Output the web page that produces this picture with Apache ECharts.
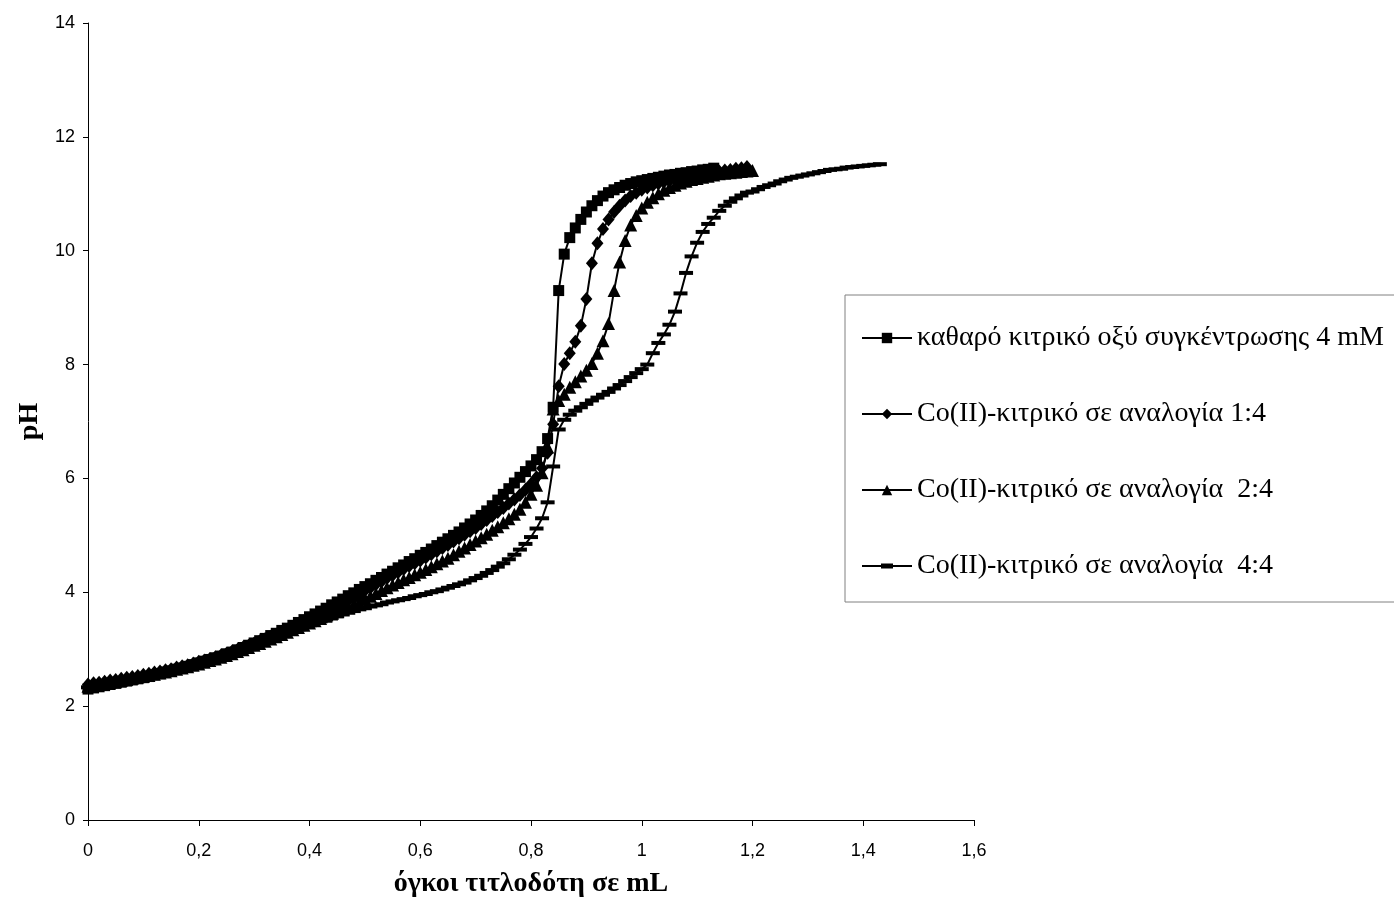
<!DOCTYPE html>
<html>
<head>
<meta charset="utf-8">
<script src="https://cdn.jsdelivr.net/npm/echarts@6/dist/echarts.min.js"></script>
<style>
  html, body { margin: 0; padding: 0; background: #fff; }
  #main { width: 1394px; height: 897px; }
</style>
</head>
<body>
<div id="main"></div>
<script>
// Titrant volume step between readings (mL)
const volStep = 0.01;

// Series names (legend order)
const seriesNames = [
    'καθαρό κιτρικό οξύ συγκέντρωσης 4 mM',
    'Co(II)-κιτρικό σε αναλογία 1:4',
    'Co(II)-κιτρικό σε αναλογία  2:4',
    'Co(II)-κιτρικό σε αναλογία  4:4'
];

// pH readings, one per volume step starting at 0 mL
const phAcid = [
    2.30, 2.32, 2.34, 2.36, 2.38, 2.40, 2.42, 2.44, 2.46, 2.48,
    2.50, 2.52, 2.55, 2.57, 2.60, 2.62, 2.65, 2.67, 2.70, 2.73,
    2.76, 2.79, 2.82, 2.85, 2.88, 2.92, 2.95, 2.99, 3.03, 3.07,
    3.11, 3.15, 3.19, 3.24, 3.28, 3.33, 3.37, 3.42, 3.47, 3.52,
    3.57, 3.62, 3.67, 3.72, 3.78, 3.83, 3.88, 3.94, 3.99, 4.05,
    4.10, 4.15, 4.21, 4.26, 4.32, 4.37, 4.43, 4.48, 4.54, 4.59,
    4.65, 4.70, 4.76, 4.82, 4.88, 4.94, 5.00, 5.06, 5.13, 5.20,
    5.27, 5.35, 5.43, 5.52, 5.62, 5.72, 5.82, 5.92, 6.02, 6.12,
    6.22, 6.33, 6.47, 6.70, 7.25, 9.30, 9.94, 10.23, 10.40, 10.55,
    10.68, 10.79, 10.88, 10.96, 11.02, 11.07, 11.11, 11.15, 11.18, 11.21,
    11.23, 11.25, 11.27, 11.29, 11.31, 11.33, 11.34, 11.36, 11.37, 11.39,
    11.40, 11.42, 11.43, 11.45
];

const phCo14 = [
    2.38, 2.40, 2.41, 2.43, 2.45, 2.46, 2.48, 2.50, 2.51, 2.53,
    2.55, 2.57, 2.59, 2.61, 2.63, 2.65, 2.68, 2.70, 2.72, 2.75,
    2.78, 2.80, 2.83, 2.86, 2.89, 2.92, 2.96, 2.99, 3.03, 3.06,
    3.10, 3.14, 3.18, 3.22, 3.26, 3.30, 3.34, 3.39, 3.43, 3.48,
    3.52, 3.57, 3.61, 3.66, 3.70, 3.75, 3.80, 3.85, 3.89, 3.94,
    4.03, 4.08, 4.14, 4.19, 4.25, 4.30, 4.35, 4.41, 4.46, 4.51,
    4.56, 4.61, 4.67, 4.72, 4.78, 4.83, 4.89, 4.95, 5.01, 5.07,
    5.13, 5.20, 5.27, 5.34, 5.41, 5.48, 5.56, 5.63, 5.71, 5.80,
    5.90, 6.02, 6.18, 6.45, 6.95, 7.62, 8.01, 8.20, 8.40, 8.68,
    9.15, 9.78, 10.13, 10.38, 10.55, 10.68, 10.79, 10.88, 10.96, 11.02,
    11.07, 11.11, 11.15, 11.18, 11.21, 11.23, 11.25, 11.27, 11.29, 11.31,
    11.33, 11.35, 11.36, 11.38, 11.39, 11.41, 11.42, 11.44, 11.45, 11.47
];

const phCo24 = [
    2.35, 2.37, 2.38, 2.40, 2.42, 2.43, 2.45, 2.47, 2.49, 2.51,
    2.52, 2.54, 2.56, 2.58, 2.60, 2.62, 2.65, 2.67, 2.69, 2.72,
    2.74, 2.77, 2.80, 2.83, 2.86, 2.89, 2.92, 2.96, 2.99, 3.03,
    3.07, 3.10, 3.14, 3.18, 3.22, 3.26, 3.30, 3.34, 3.38, 3.42,
    3.46, 3.50, 3.54, 3.58, 3.62, 3.66, 3.70, 3.74, 3.78, 3.82,
    3.89, 3.93, 3.98, 4.03, 4.08, 4.13, 4.17, 4.22, 4.26, 4.31,
    4.35, 4.40, 4.45, 4.50, 4.55, 4.60, 4.66, 4.72, 4.78, 4.84,
    4.90, 4.96, 5.02, 5.09, 5.15, 5.22, 5.29, 5.37, 5.46, 5.58,
    5.72, 5.88, 6.10, 6.55, 7.22, 7.37, 7.48, 7.60, 7.70, 7.80,
    7.90, 8.02, 8.20, 8.42, 8.72, 9.30, 9.80, 10.18, 10.45, 10.62,
    10.75, 10.85, 10.93, 11.00, 11.06, 11.11, 11.15, 11.19, 11.22, 11.25,
    11.27, 11.29, 11.31, 11.33, 11.35, 11.36, 11.37, 11.38, 11.39, 11.40,
    11.41
];

const phCo44 = [
    2.33, 2.35, 2.37, 2.38, 2.40, 2.42, 2.44, 2.46, 2.47, 2.49,
    2.51, 2.53, 2.55, 2.57, 2.59, 2.61, 2.63, 2.66, 2.68, 2.70,
    2.73, 2.75, 2.78, 2.81, 2.84, 2.87, 2.90, 2.93, 2.97, 3.00,
    3.04, 3.08, 3.11, 3.15, 3.19, 3.23, 3.27, 3.31, 3.35, 3.39,
    3.42, 3.46, 3.49, 3.52, 3.55, 3.58, 3.61, 3.64, 3.67, 3.70,
    3.72, 3.75, 3.77, 3.79, 3.82, 3.84, 3.86, 3.88, 3.90, 3.93,
    3.95, 3.97, 4.00, 4.02, 4.05, 4.08, 4.11, 4.14, 4.17, 4.21,
    4.25, 4.29, 4.34, 4.39, 4.45, 4.51, 4.58, 4.66, 4.75, 4.85,
    4.97, 5.12, 5.30, 5.58, 6.21, 6.86, 7.03, 7.12, 7.19, 7.25,
    7.31, 7.37, 7.42, 7.47, 7.52, 7.58, 7.64, 7.71, 7.78, 7.85,
    7.92, 8.00, 8.20, 8.38, 8.53, 8.70, 8.93, 9.25, 9.61, 9.90,
    10.14, 10.33, 10.47, 10.58, 10.70, 10.79, 10.86, 10.92, 10.97, 11.02,
    11.04, 11.08, 11.12, 11.15, 11.18, 11.22, 11.25, 11.28, 11.30, 11.32,
    11.34, 11.36, 11.38, 11.40, 11.42, 11.43, 11.44, 11.46, 11.47, 11.48,
    11.49, 11.50, 11.51, 11.52
];

// Axis ticks
const xTicks = { min: 0, max: 1.6, step: 0.2 };
const yTicks = { min: 0, max: 14, step: 2 };

let myChart = echarts.init(document.getElementById('main'));

// Pair each reading with its titrant volume
function toPoints(values) {
    return values.map((ph, i) => [+(i * volStep).toFixed(2), ph]);
}

function makeSeries(name, values, symbol, size) {
    return {
        name: name,
        type: 'line',
        data: toPoints(values),
        symbol: symbol,
        symbolSize: size,
        showAllSymbol: true,
        color: '#000',
        itemStyle: { color: '#000', borderWidth: 0 },
        lineStyle: { color: '#000', width: 2 },
        emphasis: { disabled: true }
    };
}

const serifFont = '"Liberation Serif", "Times New Roman", serif';
const sansFont = '"Liberation Sans", Arial, sans-serif';

// Legend icon for the 4:4 series: line with a short thick dash in the middle
const dashIcon = 'path://M0,5.5L19,5.5L19,4L31,4L31,5.5L50,5.5L50,7.5L31,7.5L31,9L19,9L19,7.5L0,7.5Z';

let option = {
    backgroundColor: '#fff',
    animation: false,
    grid: {
        left: 88,
        right: 420,
        top: 23,
        bottom: 77,
        containLabel: false,
        outerBoundsMode: 'none'
    },
    legend: {
        orient: 'vertical',
        left: 845,
        top: 295,
        padding: [29, 80, 22, 16],
        itemGap: 48,
        itemWidth: 50,
        itemHeight: 13,
        borderColor: '#808080',
        borderWidth: 1,
        backgroundColor: '#fff',
        textStyle: {
            fontFamily: serifFont,
            fontSize: 28,
            lineHeight: 28,
            color: '#000'
        },
        data: [
            seriesNames[0],
            seriesNames[1],
            seriesNames[2],
            { name: seriesNames[3], icon: dashIcon }
        ]
    },
    xAxis: {
        type: 'value',
        min: xTicks.min,
        max: xTicks.max,
        interval: xTicks.step,
        name: 'όγκοι τιτλοδότη σε mL',
        nameLocation: 'middle',
        nameGap: 50,
        nameTextStyle: {
            fontFamily: serifFont,
            fontWeight: 'bold',
            fontSize: 28,
            color: '#000'
        },
        axisLine: { show: true, lineStyle: { color: '#000', width: 1 } },
        axisTick: { show: true, length: 6, lineStyle: { color: '#000' } },
        splitLine: { show: false },
        axisLabel: {
            margin: 22,
            fontFamily: sansFont,
            fontSize: 18,
            color: '#000',
            formatter: (v) => String(+v.toFixed(1)).replace('.', ',')
        }
    },
    yAxis: {
        type: 'value',
        min: yTicks.min,
        max: yTicks.max,
        interval: yTicks.step,
        name: 'pH',
        nameLocation: 'middle',
        nameGap: 40,
        nameTextStyle: {
            fontFamily: serifFont,
            fontWeight: 'bold',
            fontSize: 28,
            color: '#000'
        },
        axisLine: { show: true, lineStyle: { color: '#000', width: 1 } },
        axisTick: { show: true, length: 5, lineStyle: { color: '#000' } },
        splitLine: { show: false },
        axisLabel: {
            margin: 13,
            fontFamily: sansFont,
            fontSize: 18,
            color: '#000'
        }
    },
    series: [
        makeSeries(seriesNames[3], phCo44, 'rect', [14, 4]),
        makeSeries(seriesNames[2], phCo24, 'triangle', 13),
        makeSeries(seriesNames[1], phCo14, 'diamond', [12, 14]),
        makeSeries(seriesNames[0], phAcid, 'rect', 11)
    ]
};

option && myChart.setOption(option);
</script>
</body>
</html>
